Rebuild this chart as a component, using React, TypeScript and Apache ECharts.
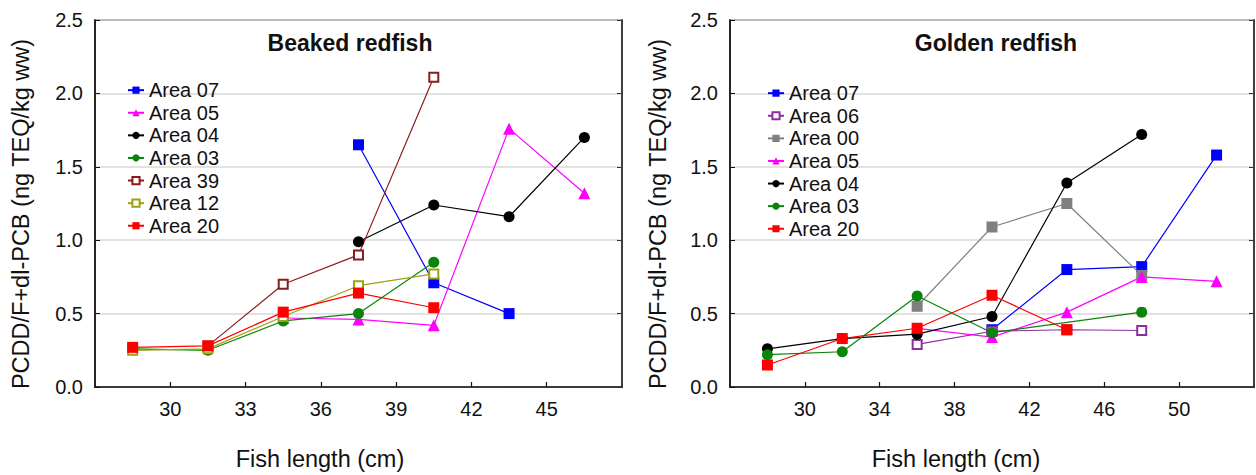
import React, { useEffect, useRef } from "react";
import * as echarts from "echarts";

// ---------- Data ----------
const yTicks = [0, 0.5, 1.0, 1.5, 2.0, 2.5];
const beakedTicks = [30, 33, 36, 39, 42, 45];
const goldenTicks = [30, 34, 38, 42, 46, 50];

// Beaked redfish
const bNames = ["Area 07", "Area 05", "Area 04", "Area 03", "Area 39", "Area 12", "Area 20"];
const b07x = [37.5, 40.5, 43.5];
const b07y = [1.65, 0.71, 0.50];
const b05x = [34.5, 37.5, 40.5, 43.5, 46.5];
const b05y = [0.47, 0.46, 0.42, 1.76, 1.32];
const b04x = [37.5, 40.5, 43.5, 46.5];
const b04y = [0.99, 1.24, 1.16, 1.70];
const b03x = [28.5, 31.5, 34.5, 37.5, 40.5];
const b03y = [0.26, 0.25, 0.45, 0.50, 0.85];
const b39x = [31.5, 34.5, 37.5, 40.5];
const b39y = [0.28, 0.70, 0.90, 2.11];
const b12x = [28.5, 31.5, 34.5, 37.5, 40.5];
const b12y = [0.25, 0.26, 0.48, 0.69, 0.77];
const b20x = [28.5, 31.5, 34.5, 37.5, 40.5];
const b20y = [0.27, 0.28, 0.51, 0.64, 0.54];

// Golden redfish
const gNames = ["Area 07", "Area 06", "Area 00", "Area 05", "Area 04", "Area 03", "Area 20"];
const g07x = [40, 44, 48, 52];
const g07y = [0.39, 0.80, 0.82, 1.58];
const g06x = [36, 40, 44, 48];
const g06y = [0.29, 0.38, 0.39, 0.385];
const g00x = [36, 40, 44, 48];
const g00y = [0.55, 1.09, 1.25, 0.76];
const g05x = [36, 40, 44, 48, 52];
const g05y = [0.40, 0.34, 0.51, 0.75, 0.72];
const g04x = [28, 32, 36, 40, 44, 48];
const g04y = [0.26, 0.33, 0.36, 0.48, 1.39, 1.72];
const g03x = [28, 32, 36, 40, 48];
const g03y = [0.22, 0.24, 0.62, 0.37, 0.51];
const g20x = [28, 32, 36, 40, 44];
const g20y = [0.15, 0.33, 0.40, 0.625, 0.39];

// ---------- Styles ----------
const FONT = "'Liberation Sans', Arial, sans-serif";
const styles: Record<string, { color: string; symbol: string; size: number }> = {
  blueSq: { color: "#0000ff", symbol: "rect", size: 11 },
  magTri: { color: "#ff00ff", symbol: "triangle", size: 12 },
  blackCi: { color: "#000000", symbol: "circle", size: 11 },
  greenCi: { color: "#0a840a", symbol: "circle", size: 11 },
  brownOpen: { color: "#8b1c1c", symbol: "emptyRect", size: 9 },
  oliveOpen: { color: "#a0a010", symbol: "emptyRect", size: 9 },
  redSq: { color: "#ff0000", symbol: "rect", size: 11 },
  purpleOpen: { color: "#8a2f9e", symbol: "emptyRect", size: 9 },
  graySq: { color: "#808080", symbol: "rect", size: 11 },
};

function zip(xs: number[], ys: number[]) {
  return xs.map((x, i) => [x, ys[i]]);
}

function mkSeries(name: string, xs: number[], ys: number[], st: string, idx: number) {
  const s = styles[st];
  return {
    type: "line",
    name,
    xAxisIndex: idx,
    yAxisIndex: idx * 2,
    data: zip(xs, ys),
    symbol: s.symbol,
    symbolSize: s.size,
    showAllSymbol: true,
    lineStyle: { color: s.color, width: 1.2 },
    itemStyle: { color: s.color, borderColor: s.color, borderWidth: s.symbol === "emptyRect" ? 1.3 : 0 },
    emphasis: { disabled: true },
    z: 3,
  };
}

function xAxisFor(idx: number, min: number, max: number, ticks: number[]) {
  return {
    type: "value",
    gridIndex: idx,
    min,
    max,
    axisLine: { show: true, onZero: false, lineStyle: { color: "#111", width: 1.5 } },
    axisTick: { show: true, inside: true, length: 5, customValues: ticks, lineStyle: { color: "#111", width: 1.2 } },
    axisLabel: { customValues: ticks, fontSize: 20, fontFamily: FONT, color: "#111", margin: 12 },
    splitLine: { show: false },
  };
}

function yAxesFor(idx: number) {
  return [
    {
      type: "value",
      gridIndex: idx,
      min: 0,
      max: 2.5,
      interval: 0.5,
      position: "left",
      axisLine: { show: true, lineStyle: { color: "#111", width: 1.5 } },
      axisTick: { show: true, inside: true, length: 5, lineStyle: { color: "#111" } },
      axisLabel: {
        fontSize: 20,
        fontFamily: FONT,
        color: "#111",
        margin: 12,
        formatter: (v: number) => (yTicks.includes(v) ? v.toFixed(1) : ""),
      },
      splitLine: { show: true, lineStyle: { color: "#d8d8d8", width: 1.5 } },
    },
    {
      type: "value",
      gridIndex: idx,
      min: 0,
      max: 2.5,
      interval: 0.5,
      position: "right",
      axisLine: { show: true, lineStyle: { color: "#333", width: 1.5 } },
      axisTick: { show: true, inside: true, length: 5, lineStyle: { color: "#333" } },
      axisLabel: { show: false },
      splitLine: { show: false },
    },
  ];
}

function legendFor(names: string[], left: number, top: number) {
  return {
    orient: "vertical",
    left,
    top,
    padding: 0,
    data: names,
    itemWidth: 16,
    itemHeight: 9,
    itemGap: 0.3,
    selectedMode: false,
    textStyle: { fontSize: 20, fontFamily: FONT, color: "#111", lineHeight: 22.3 },
  };
}

const yName = "PCDD/F+dl-PCB (ng TEQ/kg ww)";
const xName = "Fish length (cm)";

export default function App() {
  const ref = useRef<HTMLDivElement>(null);
  useEffect(() => {
    if (!ref.current) return;
    const chart = echarts.init(ref.current, undefined, { renderer: "svg" });
    const titleStyle = { fontSize: 23, fontWeight: "bold", fontFamily: FONT, color: "#111" };
    const option = {
      animation: false,
      backgroundColor: "#ffffff",
      title: [
        { text: "Beaked redfish", left: 350, top: 31, padding: 0, textAlign: "center", textStyle: titleStyle },
        { text: "Golden redfish", left: 996, top: 31, padding: 0, textAlign: "center", textStyle: titleStyle },
      ],
      grid: [
        { left: 95, top: 20, width: 527, height: 367, show: true, borderColor: "#333", borderWidth: 1.5 },
        { left: 730, top: 20, width: 524, height: 367, show: true, borderColor: "#333", borderWidth: 1.5 },
      ],
      xAxis: [xAxisFor(0, 27, 48, beakedTicks), xAxisFor(1, 26, 54, goldenTicks)],
      yAxis: [...yAxesFor(0), ...yAxesFor(1)],
      legend: [legendFor(bNames, 127, 79), legendFor(gNames, 767, 82)],
      graphic: [
        {
          type: "text",
          x: 21,
          y: 214,
          rotation: Math.PI / 2,
          style: { text: yName, font: `23.5px ${FONT}`, fill: "#111", align: "center", verticalAlign: "middle" },
        },
        {
          type: "text",
          x: 658,
          y: 214,
          rotation: Math.PI / 2,
          style: { text: yName, font: `23.5px ${FONT}`, fill: "#111", align: "center", verticalAlign: "middle" },
        },
        {
          type: "text",
          x: 320,
          y: 459,
          style: { text: xName, font: `23.5px ${FONT}`, fill: "#111", align: "center", verticalAlign: "middle" },
        },
        {
          type: "text",
          x: 956,
          y: 459,
          style: { text: xName, font: `23.5px ${FONT}`, fill: "#111", align: "center", verticalAlign: "middle" },
        },
      ],
      series: [
        mkSeries(bNames[0], b07x, b07y, "blueSq", 0),
        mkSeries(bNames[1], b05x, b05y, "magTri", 0),
        mkSeries(bNames[2], b04x, b04y, "blackCi", 0),
        mkSeries(bNames[3], b03x, b03y, "greenCi", 0),
        mkSeries(bNames[4], b39x, b39y, "brownOpen", 0),
        mkSeries(bNames[5], b12x, b12y, "oliveOpen", 0),
        mkSeries(bNames[6], b20x, b20y, "redSq", 0),
        mkSeries(gNames[0], g07x, g07y, "blueSq", 1),
        mkSeries(gNames[1], g06x, g06y, "purpleOpen", 1),
        mkSeries(gNames[2], g00x, g00y, "graySq", 1),
        mkSeries(gNames[3], g05x, g05y, "magTri", 1),
        mkSeries(gNames[4], g04x, g04y, "blackCi", 1),
        mkSeries(gNames[5], g03x, g03y, "greenCi", 1),
        mkSeries(gNames[6], g20x, g20y, "redSq", 1),
      ],
    };
    chart.setOption(option as any);
    return () => chart.dispose();
  }, []);
  return (
    <div
      ref={ref}
      style={{ position: "fixed", left: 0, top: 0, width: 1256, height: 475, background: "#fff" }}
    />
  );
}
